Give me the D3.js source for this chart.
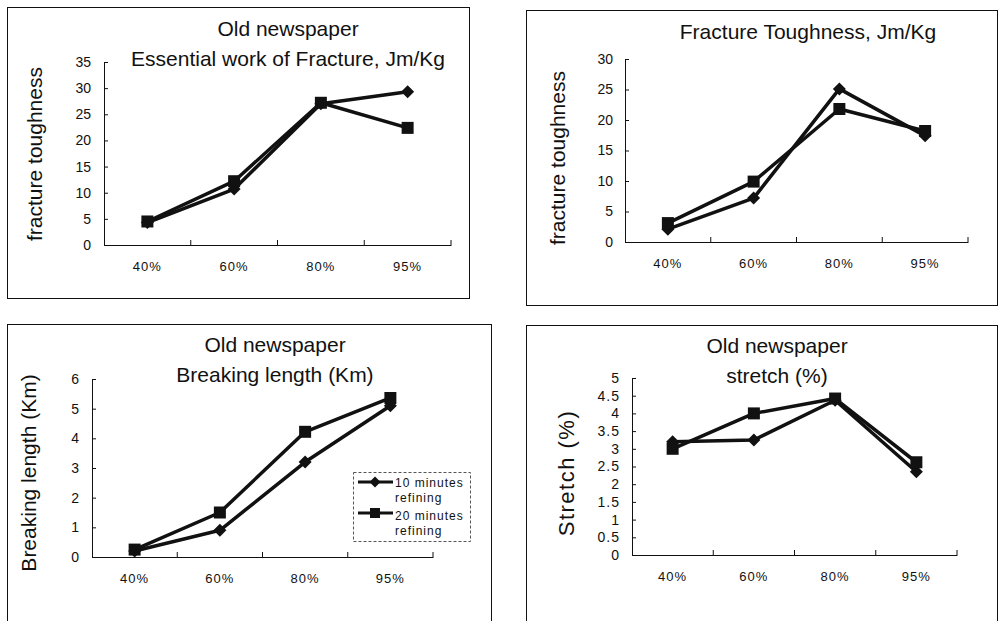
<!DOCTYPE html>
<html>
<head>
<meta charset="utf-8">
<script src="https://cdn.jsdelivr.net/npm/d3@7"></script>
<style>
  body { margin: 0; background: #fff; }
  text { font-family: "Liberation Sans", Arial, sans-serif; fill: #111; }
</style>
</head>
<body>
<div id="chart"></div>
<script>
// categories shared by all four panels
var categories = ["40%", "60%", "80%", "95%"];

// values (10 min = diamonds, 20 min = squares)
var efwTen = [4.3, 10.7, 27.0, 29.3];
var efwTwenty = [4.5, 12.2, 27.2, 22.4];
var toughTen = [2.1, 7.2, 25.1, 17.4];
var toughTwenty = [3.1, 9.9, 21.8, 18.2];
var breakTen = [0.2, 0.9, 3.2, 5.1];
var breakTwenty = [0.25, 1.5, 4.22, 5.36];
var stretchTen = [3.2, 3.25, 4.37, 2.35];
var stretchTwenty = [3.0, 4.0, 4.42, 2.62];

// tick labels
var efwTicks = [0, 5, 10, 15, 20, 25, 30, 35];
var toughTicks = [0, 5, 10, 15, 20, 25, 30];
var breakTicks = [0, 1, 2, 3, 4, 5, 6];
var stretchTicks = [0, 0.5, 1, 1.5, 2, 2.5, 3, 3.5, 4, 4.5, 5];

var legendLabels = [["10 minutes", "refining"], ["20 minutes", "refining"]];

var svg = d3.select("#chart").append("svg").attr("width", 998).attr("height", 621);

// panel layout
var panels = [
  { box: [7, 7, 469, 298], plot: { left: 104, right: 451, top: 62, bottom: 245 },
    ticks: efwTicks, ten: efwTen, twenty: efwTwenty, pad: 13, tickSpacing: 0,
    titles: [{ t: "Old newspaper", x: 288, y: 36 }, { t: "Essential work of Fracture, Jm/Kg", x: 288, y: 66 }],
    ylab: { t: "fracture toughness", x: 42, y: 154, size: 21, spacing: 0 } },
  { box: [526, 10, 997, 305], plot: { left: 625, right: 968, top: 59, bottom: 242 },
    ticks: toughTicks, ten: toughTen, twenty: toughTwenty, pad: 12, tickSpacing: 0,
    titles: [{ t: "Fracture Toughness, Jm/Kg", x: 808, y: 39 }],
    ylab: { t: "fracture toughness", x: 565, y: 158, size: 21, spacing: 0 } },
  { box: [7, 324, 491, 660], plot: { left: 92, right: 433, top: 379, bottom: 557 },
    ticks: breakTicks, ten: breakTen, twenty: breakTwenty, pad: 13, tickSpacing: 0,
    titles: [{ t: "Old newspaper", x: 275, y: 352 }, { t: "Breaking length (Km)", x: 275, y: 382 }],
    ylab: { t: "Breaking length (Km)", x: 36, y: 473, size: 21, spacing: 0 }, legend: true },
  { box: [526, 325, 997, 660], plot: { left: 632, right: 957, top: 378, bottom: 555 },
    ticks: stretchTicks, ten: stretchTen, twenty: stretchTwenty, pad: 12, tickSpacing: 1,
    titles: [{ t: "Old newspaper", x: 777, y: 353 }, { t: "stretch (%)", x: 777, y: 383 }],
    ylab: { t: "Stretch (%)", x: 574, y: 473, size: 22, spacing: 1.5 } }
];

function diamondPath(r) { return "M0," + (-r) + "L" + r + ",0L0," + r + "L" + (-r) + ",0Z"; }
function squarePath(r) { return "M" + (-r) + "," + (-r) + "H" + r + "V" + r + "H" + (-r) + "Z"; }

panels.forEach(function (p) {
  // frame
  svg.append("rect")
    .attr("x", p.box[0] + 0.5).attr("y", p.box[1] + 0.5)
    .attr("width", p.box[2] - p.box[0]).attr("height", p.box[3] - p.box[1])
    .attr("fill", "none").attr("stroke", "#111").attr("stroke-width", 1);

  var x = d3.scaleBand().domain(categories).range([p.plot.left, p.plot.right]);
  var y = d3.scaleLinear().domain([0, d3.max(p.ticks)]).range([p.plot.bottom, p.plot.top]);

  // y axis
  var yAxis = d3.axisLeft(y).tickValues(p.ticks).tickSizeInner(-4).tickSizeOuter(0)
    .tickPadding(p.pad).tickFormat(function (d) { return String(d); });
  var gy = svg.append("g").attr("transform", "translate(" + p.plot.left + ",0)").call(yAxis);
  gy.select(".domain").attr("stroke", "#111");
  gy.selectAll(".tick line").attr("stroke", "#111");
  gy.selectAll("text").style("font-size", "14px").style("letter-spacing", p.tickSpacing + "px")
    .style("font-family", "'Liberation Sans', Arial, sans-serif").attr("fill", "#111");

  // x axis
  var xAxis = d3.axisBottom(x).tickSize(0).tickPadding(17);
  var gx = svg.append("g").attr("transform", "translate(0," + p.plot.bottom + ")").call(xAxis);
  gx.select(".domain").attr("stroke", "#111");
  gx.selectAll("text").style("font-size", "13px").style("letter-spacing", "1px")
    .style("font-family", "'Liberation Sans', Arial, sans-serif").attr("fill", "#111");
  gx.selectAll(".boundary")
    .data(categories)
    .enter()
    .append("line")
    .attr("x1", function (d) { return x(d) + x.bandwidth(); })
    .attr("x2", function (d) { return x(d) + x.bandwidth(); })
    .attr("y1", 0).attr("y2", -5)
    .attr("stroke", "#111");

  // titles
  p.titles.forEach(function (t) {
    svg.append("text").attr("x", t.x).attr("y", t.y).attr("text-anchor", "middle")
      .style("font-size", "21px").text(t.t);
  });

  // y label
  svg.append("text")
    .attr("transform", "translate(" + p.ylab.x + "," + p.ylab.y + ") rotate(-90)")
    .attr("text-anchor", "middle")
    .style("font-size", p.ylab.size + "px")
    .style("letter-spacing", p.ylab.spacing + "px")
    .text(p.ylab.t);

  // series
  var line = d3.line()
    .x(function (d, i) { return x(categories[i]) + x.bandwidth() / 2; })
    .y(function (d) { return y(d); });

  [{ vals: p.ten, shape: diamondPath(6.5) }, { vals: p.twenty, shape: squarePath(6) }].forEach(function (s) {
    svg.append("path").datum(s.vals).attr("d", line)
      .attr("fill", "none").attr("stroke", "#111").attr("stroke-width", 3.5)
      .attr("stroke-linejoin", "round");
    svg.append("g").selectAll("path")
      .data(s.vals)
      .enter()
      .append("path")
      .attr("d", s.shape)
      .attr("transform", function (d, i) {
        return "translate(" + (x(categories[i]) + x.bandwidth() / 2) + "," + y(d) + ")";
      })
      .attr("fill", "#111");
  });

  // legend
  if (p.legend) {
    var lg = svg.append("g").attr("transform", "translate(353,472)");
    lg.append("rect").attr("x", 0.5).attr("y", 0.5).attr("width", 117).attr("height", 69)
      .attr("fill", "#fff").attr("stroke", "#555").attr("stroke-dasharray", "3,2");
    var shapes = [diamondPath(5.5), squarePath(5)];
    legendLabels.forEach(function (lab, i) {
      var ly = 10 + i * 31;
      lg.append("line").attr("x1", 5).attr("x2", 40).attr("y1", ly).attr("y2", ly)
        .attr("stroke", "#111").attr("stroke-width", 3);
      lg.append("path").attr("d", shapes[i]).attr("transform", "translate(22," + ly + ")").attr("fill", "#111");
      lg.append("text").attr("x", 42).attr("y", ly + 5 + i * 2).style("font-size", "12px")
        .style("letter-spacing", "1px").text(lab[0]);
      lg.append("text").attr("x", 42).attr("y", ly + 20 + i * 2).style("font-size", "12px")
        .style("letter-spacing", "1px").text(lab[1]);
    });
  }
});
</script>
</body>
</html>
